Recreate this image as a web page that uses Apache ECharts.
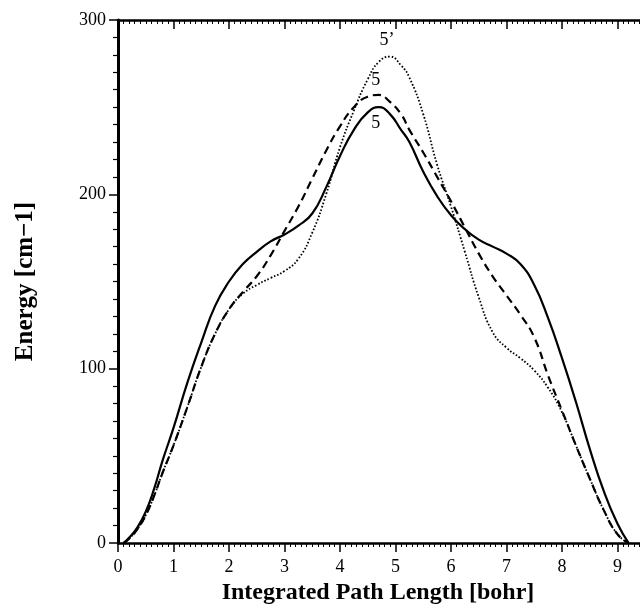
<!DOCTYPE html>
<html>
<head>
<meta charset="utf-8">
<script src="https://cdn.jsdelivr.net/npm/echarts@6/dist/echarts.min.js"></script>
<style>
html, body { margin: 0; padding: 0; background: #fff; }
#chart { width: 640px; height: 609px; }
</style>
</head>
<body>
<div id="chart"></div>
<script>
// integrated path length [bohr], shared by the three curves
const pathLength = [0.1, 0.2, 0.35, 0.5, 0.65, 0.8, 1.0, 1.25, 1.5, 1.75, 2.0, 2.25, 2.5, 2.75, 3.0, 3.25, 3.5, 3.75, 4.0, 4.25, 4.5, 4.7, 4.9, 5.1, 5.25, 5.5, 5.75, 6.0, 6.25, 6.5, 6.75, 7.0, 7.25, 7.5, 7.75, 8.0, 8.25, 8.5, 8.75, 9.0, 9.2];

// energy [cm-1]
const energySolid = [0, 3, 9, 18, 31, 47, 66, 92, 115, 136, 150, 160, 167, 173, 177, 182, 189, 204, 222, 237, 247, 250, 246, 237, 230, 213, 199, 188, 180, 174, 170, 166, 160, 148, 129, 106, 81, 54, 30, 11, 0];
const energyDashed = [0, 2.5, 8, 16, 27, 40, 56, 78, 101, 120, 134, 144, 153, 165, 179, 193, 209, 225, 239, 250, 256, 257, 253, 246, 237, 224, 210, 196, 181, 166, 153, 142, 131, 118, 96, 76, 56, 37, 19, 5, 0];
const energyDotted = [0, 2.5, 8, 16, 27, 40, 56, 78, 101, 120, 134, 143, 148, 152, 156, 163, 178, 200, 227, 248, 266, 276, 279, 274, 267, 246, 217, 193, 167, 141, 121, 112, 106, 99, 89, 75, 56, 37, 19, 5, 0];

const peakLabels = ["5", "5", "5\u2019"];

const serif = "Liberation Serif";

function pairs(ys) {
    return pathLength.map((x, i) => [x, ys[i]]);
}

function peakMark(text, offsetY) {
    return {
        symbol: "circle",
        symbolSize: 0,
        data: [{ type: "max" }],
        label: {
            show: true,
            position: "inside",
            offset: [-3, offsetY],
            formatter: text,
            fontFamily: serif,
            fontSize: 18,
            color: "#000"
        }
    };
}

const chart = echarts.init(document.getElementById("chart"));

chart.setOption({
    animation: false,
    backgroundColor: "#fff",
    grid: { left: 118, right: -33, top: 20, bottom: 66, outerBoundsMode: "none" },
    xAxis: [
        {
            type: "value",
            min: 0,
            max: 10,
            interval: 1,
            position: "bottom",
            name: "Integrated Path Length [bohr]",
            nameLocation: "middle",
            nameGap: 35,
            nameTextStyle: {
                fontFamily: serif,
                fontWeight: "bold",
                fontSize: 24,
                color: "#000",
                padding: [0, 35, 0, 0]
            },
            axisLine: { onZero: false, lineStyle: { color: "#000", width: 2.5 } },
            axisTick: { inside: false, length: 9, lineStyle: { color: "#000", width: 1.5 } },
            minorTick: { show: true, splitNumber: 10, length: 4, lineStyle: { color: "#000", width: 1 } },
            axisLabel: {
                margin: 15,
                fontFamily: serif,
                fontSize: 18,
                color: "#000",
                formatter: v => (v > 9 ? "" : String(v))
            },
            splitLine: { show: false }
        },
        {
            type: "value",
            min: 0,
            max: 10,
            interval: 1,
            position: "top",
            axisLine: { onZero: false, lineStyle: { color: "#000", width: 2.5 } },
            axisTick: { inside: true, length: 9, lineStyle: { color: "#000", width: 1.5 } },
            minorTick: { show: true, splitNumber: 10, length: 4, lineStyle: { color: "#000", width: 1 } },
            axisLabel: { show: false },
            splitLine: { show: false }
        }
    ],
    yAxis: {
        type: "value",
        min: 0,
        max: 300,
        interval: 100,
        name: "Energy [cm\u22121]",
        nameLocation: "middle",
        nameGap: 80,
        nameTextStyle: {
            fontFamily: serif,
            fontWeight: "bold",
            fontSize: 25,
            color: "#000"
        },
        axisLine: { show: true, onZero: false, lineStyle: { color: "#000", width: 3 } },
        axisTick: { inside: false, length: 9, lineStyle: { color: "#000", width: 1.5 } },
        minorTick: { show: true, splitNumber: 10, length: 5, lineStyle: { color: "#000", width: 1.2 } },
        axisLabel: { margin: 12, fontFamily: serif, fontSize: 18, color: "#000" },
        splitLine: { show: false }
    },
    series: [
        {
            name: "solid",
            type: "line",
            smooth: 0.5,
            showSymbol: false,
            data: pairs(energySolid),
            lineStyle: { color: "#000", width: 2.2, type: "solid" },
            markPoint: peakMark(peakLabels[0], 16)
        },
        {
            name: "dashed",
            type: "line",
            smooth: 0.5,
            showSymbol: false,
            data: pairs(energyDashed),
            lineStyle: { color: "#000", width: 2.2, type: [8, 5] },
            markPoint: peakMark(peakLabels[1], -15)
        },
        {
            name: "dotted",
            type: "line",
            smooth: 0.5,
            showSymbol: false,
            data: pairs(energyDotted),
            lineStyle: { color: "#000", width: 1.8, type: [1.6, 1.9] },
            markPoint: peakMark(peakLabels[2], -16)
        }
    ]
});
</script>
</body>
</html>
